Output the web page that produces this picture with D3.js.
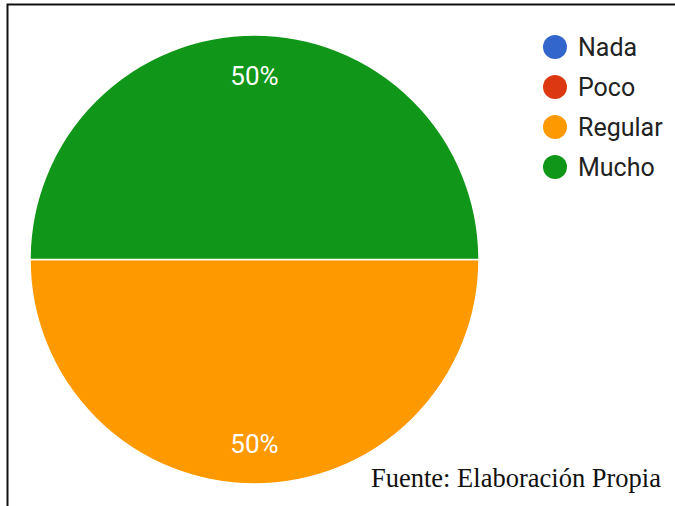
<!DOCTYPE html>
<html>
<head>
<meta charset="utf-8">
<script src="https://cdn.jsdelivr.net/npm/d3@7"></script>
<style>
  body { margin: 0; background: #fff; }
  #chart-pie { width: 675px; height: 506px; }
</style>
</head>
<body>
<div id="chart-pie"></div>
<script>
var categories = ["Nada", "Poco", "Regular", "Mucho"];
var values = [0, 0, 1, 1];
var colors = ["#3366cc", "#dc3912", "#ff9900", "#109618"];
var source = "Fuente: Elaboración Propia";

var width = 675, height = 506;
var cx = 254.5, cy = 259.5, radius = 224.5;

var svg = d3.select("#chart-pie")
  .append("svg")
  .attr("width", width)
  .attr("height", height);

svg.append("rect")
  .attr("width", width)
  .attr("height", height)
  .attr("fill", "#fff");

// frame (only top and left edges show in the picture)
svg.append("path")
  .attr("d", "M7.5," + height + "V4.5H" + width)
  .attr("fill", "none")
  .attr("stroke", "#111")
  .attr("stroke-width", 2);

var data = categories.map(function(c, i) {
  return {name: c, value: values[i], color: colors[i]};
});

var total = d3.sum(values);

var pie = d3.pie()
  .sort(null)
  .value(function(d) { return d.value; })
  .startAngle(Math.PI / 2)
  .endAngle(Math.PI / 2 + 2 * Math.PI);

var arc = d3.arc().innerRadius(0).outerRadius(radius);
var labelArc = d3.arc().innerRadius(radius * 0.82).outerRadius(radius * 0.82);

var g = svg.append("g")
  .attr("transform", "translate(" + cx + "," + cy + ")");

var slices = pie(data).filter(function(d) { return d.data.value > 0; });

g.selectAll(".slice")
  .data(slices)
  .enter().append("path")
  .attr("class", "slice")
  .attr("d", arc)
  .attr("fill", function(d) { return d.data.color; })
  .attr("stroke", "#fff")
  .attr("stroke-width", 1.5);

g.selectAll(".pct")
  .data(slices)
  .enter().append("text")
  .attr("class", "pct")
  .attr("transform", function(d) { return "translate(" + labelArc.centroid(d) + ")"; })
  .attr("dy", "0.35em")
  .attr("text-anchor", "middle")
  .attr("font-family", "Roboto, Arial, sans-serif")
  .attr("font-size", 26)
  .attr("fill", "#fff")
  .text(function(d) { return d3.format(".0%")(d.data.value / total); });

// legend
var legendY = d3.scalePoint()
  .domain(categories)
  .range([47, 167]);

var legend = svg.selectAll(".legend")
  .data(data)
  .enter().append("g")
  .attr("class", "legend")
  .attr("transform", function(d) { return "translate(555," + legendY(d.name) + ")"; });

legend.append("circle")
  .attr("r", 12)
  .attr("fill", function(d) { return d.color; });

legend.append("text")
  .attr("x", 23)
  .attr("dy", "0.35em")
  .attr("font-family", "Roboto, Arial, sans-serif")
  .attr("font-size", 25)
  .attr("fill", "#222")
  .text(function(d) { return d.name; });

svg.append("text")
  .attr("x", 371)
  .attr("y", 487)
  .attr("font-family", "'Liberation Serif', 'Times New Roman', serif")
  .attr("font-size", 26.5)
  .attr("fill", "#111")
  .text(source);
</script>
</body>
</html>
